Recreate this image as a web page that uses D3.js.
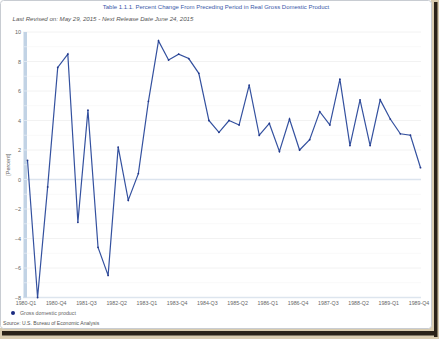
<!DOCTYPE html>
<html>
<head>
<meta charset="utf-8">
<script src="https://cdn.jsdelivr.net/npm/d3@7"></script>
<style>
  html, body { margin: 0; padding: 0; background: #fff; }
  svg { display: block; font-family: "Liberation Sans", Arial, sans-serif; }
</style>
</head>
<body>
<svg id="chart" width="439" height="339"></svg>
<script>
// Real GDP, percent change from preceding quarter (annual rate), 1980-Q1 .. 1989-Q4
const years = [1980, 1981, 1982, 1983, 1984, 1985, 1986, 1987, 1988, 1989];
const quarters = years.flatMap(y => ["Q1", "Q2", "Q3", "Q4"].map(q => `${y}-${q}`));
const gdpChange = [
  1.3, -8.0, -0.5, 7.6,
  8.5, -2.9, 4.7, -4.6,
  -6.5, 2.2, -1.4, 0.4,
  5.3, 9.4, 8.1, 8.5,
  8.2, 7.2, 4.0, 3.2,
  4.0, 3.7, 6.4, 3.0,
  3.8, 1.9, 4.1, 2.0,
  2.7, 4.6, 3.7, 6.8,
  2.3, 5.4, 2.3, 5.4,
  4.1, 3.1, 3.0, 0.8
];
const yTicks = [10, 8, 6, 4, 2, 0, -2, -4, -6, -8];
const xTickLabels = quarters.filter((d, i) => i % 3 === 0);

const titleText = "Table 1.1.1. Percent Change From Preceding Period in Real Gross Domestic Product";
const subtitleText = "Last Revised on: May 29, 2015 - Next Release Date June 24, 2015";
const seriesName = "Gross domestic product";
const sourceText = "Source: U.S. Bureau of Economic Analysis";

const svg = d3.select("#chart");

// Window frame: white panel with a dark drop shadow on the right and bottom
const frame = svg.append("g");
frame.append("rect").attr("x", 431).attr("y", 0).attr("width", 8).attr("height", 339).attr("fill", "#d9ccb0");
frame.append("rect").attr("x", 0).attr("y", 328).attr("width", 439).attr("height", 11).attr("fill", "#d9ccb0");
frame.append("rect").attr("x", 434).attr("y", 2).attr("width", 3.5).attr("height", 335).attr("fill", "#2a2218");
frame.append("rect").attr("x", 2).attr("y", 331).attr("width", 435).attr("height", 4.5).attr("fill", "#2a2218");
frame.append("rect").attr("x", 0.5).attr("y", 0.5).attr("width", 431).attr("height", 328)
  .attr("rx", 3).attr("fill", "#fff").attr("stroke", "#c8ccd2").attr("stroke-width", 1);

// Plot geometry
const plotLeft = 23, plotRight = 421, plotTop = 32, plotBottom = 297.5;

const x = d3.scalePoint().domain(quarters).range([27.5, 420.5]);
const y = d3.scaleLinear().domain([-8, 10]).range([plotBottom, plotTop]);

// Minor and major horizontal gridlines
const g = svg.append("g");
g.selectAll("line.minor").data(d3.range(-7, 10, 2)).join("line")
  .attr("x1", plotLeft).attr("x2", plotRight)
  .attr("y1", d => y(d)).attr("y2", d => y(d))
  .attr("stroke", "#f9f9f9").attr("stroke-width", 1);
g.selectAll("line.major").data(yTicks).join("line")
  .attr("x1", plotLeft).attr("x2", plotRight)
  .attr("y1", d => y(d)).attr("y2", d => y(d))
  .attr("stroke", d => d === 0 ? "#dce4ee" : (d === -8 ? "#dde5ee" : "#f2f2f2"))
  .attr("stroke-width", d => (d === 0 || d === -8) ? 1.4 : 1);

// Highlighted band along the left edge of the plot
svg.append("rect")
  .attr("x", plotLeft + 0.5).attr("y", plotTop).attr("width", 3.5).attr("height", plotBottom - plotTop)
  .attr("fill", "#c2d3e5");
svg.append("g").selectAll("line").data(d3.range(-7, 10, 1)).join("line")
  .attr("x1", plotLeft + 0.5).attr("x2", plotLeft + 4)
  .attr("y1", d => y(d)).attr("y2", d => y(d))
  .attr("stroke", "#e4ecf4").attr("stroke-width", 0.8);

// Y axis labels
const yAxis = d3.axisLeft(y).tickValues(yTicks).tickSize(0).tickPadding(0);
const yg = svg.append("g").attr("transform", `translate(${plotLeft - 2},0)`).call(yAxis);
yg.select(".domain").remove();
yg.selectAll("text").attr("font-size", 5.5).attr("fill", "#666").attr("font-family", "Liberation Sans, Arial, sans-serif");

// Y axis title
svg.append("text")
  .attr("transform", `translate(9.5,${y(1)}) rotate(-90)`)
  .attr("text-anchor", "middle").attr("font-size", 5.5).attr("fill", "#666")
  .text("[Percent]");

// X axis labels
const xAxis = d3.axisBottom(x).tickValues(xTickLabels).tickSize(0).tickPadding(4);
const xg = svg.append("g").attr("transform", `translate(-2,${plotBottom})`).call(xAxis);
xg.select(".domain").remove();
xg.selectAll("text").attr("font-size", 5.3).attr("fill", "#666").attr("font-family", "Liberation Sans, Arial, sans-serif");

// Data line
const lineColor = "#34519f";
svg.append("path").datum(gdpChange)
  .attr("fill", "none").attr("stroke", lineColor).attr("stroke-width", 1.2)
  .attr("stroke-linejoin", "miter")
  .attr("d", d3.line().x((d, i) => x(quarters[i])).y(d => y(d)));
svg.append("g").selectAll("circle").data(gdpChange).join("circle")
  .attr("cx", (d, i) => x(quarters[i])).attr("cy", d => y(d)).attr("r", 0.9)
  .attr("fill", "#22378a");

// Title and subtitle
svg.append("text").attr("x", 216).attr("y", 8.5).attr("text-anchor", "middle")
  .attr("font-size", 6).attr("fill", "#3a58a8").text(titleText);
svg.append("text").attr("x", 12.5).attr("y", 21).attr("font-size", 6.1)
  .attr("font-style", "italic").attr("fill", "#555").text(subtitleText);

// Legend
svg.append("circle").attr("cx", 13).attr("cy", 313).attr("r", 2).attr("fill", "#1a2a80");
svg.append("text").attr("x", 20).attr("y", 315).attr("font-size", 5.3).attr("fill", "#666").text(seriesName);

// Source note
svg.append("text").attr("x", 3).attr("y", 325).attr("font-size", 5.1).attr("fill", "#555").text(sourceText);
</script>
</body>
</html>
